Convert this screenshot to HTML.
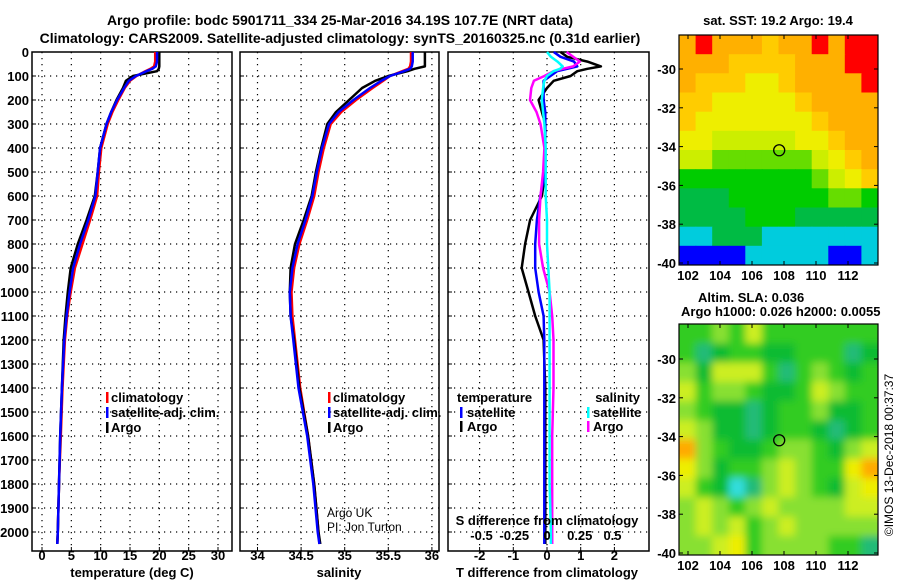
<!DOCTYPE html>
<html><head><meta charset="utf-8"><style>
html,body{margin:0;padding:0;background:#fff;}
svg{display:block;font-family:"Liberation Sans",Arial,sans-serif;}
.b{font-weight:bold;font-size:13px;}
.n{font-size:12px;}
</style></head><body>
<svg id="chart" width="900" height="580" viewBox="0 0 900 580">
<rect width="900" height="580" fill="#fff"/>
<text class="b" x="340" y="25" text-anchor="middle" style="font-size:14px">Argo profile: bodc 5901711_334 25-Mar-2016 34.19S 107.7E (NRT data)</text>
<text class="b" x="340" y="43" text-anchor="middle" style="font-size:14px">Climatology: CARS2009. Satellite-adjusted climatology: synTS_20160325.nc (0.31d earlier)</text>
<g id="plots"></g>
<g id="maps"></g>
<text class="n" x="327" y="517">Argo UK</text>
<text class="n" x="327" y="531">PI: Jon Turton</text>
<text class="n" transform="translate(893,455) rotate(-90)" text-anchor="middle">©IMOS 13-Dec-2018 00:37:37</text>
</svg>
<script>
const depths=[0,20,40,60,70,80,100,120,150,200,250,300,400,500,600,700,800,900,1000,1100,1200,1400,1600,1800,2000,2050];
const tempSat=[19.6,19.6,19.6,19.4,18.8,17.8,16.0,14.8,14.0,12.8,11.8,11.0,9.9,9.5,9.1,7.9,6.5,5.3,4.7,4.2,3.8,3.4,3.1,2.9,2.7,2.6];
const tempClim=[19.3,19.3,19.3,19.1,18.5,17.6,16.1,15.0,14.1,13.0,12.0,11.2,10.1,9.7,9.4,8.2,6.9,5.6,4.9,4.3,3.9,3.5,3.2,2.9,2.7,2.6];
const tempArgo=[20.0,20.0,20.0,20.0,19.9,19.6,15.5,14.3,13.8,12.7,11.8,11.0,9.9,9.5,9.0,7.6,6.1,4.9,4.4,4.0,3.7,3.4,3.1,2.9,2.7,2.6];
const salSat=[35.78,35.78,35.78,35.77,35.75,35.68,35.52,35.42,35.29,35.10,34.93,34.82,34.74,34.68,34.63,34.55,34.46,34.40,34.37,34.38,34.41,34.47,34.57,34.64,34.69,34.71];
const salClim=[35.76,35.76,35.76,35.75,35.73,35.66,35.52,35.44,35.32,35.13,34.96,34.84,34.76,34.70,34.65,34.57,34.48,34.42,34.39,34.40,34.43,34.49,34.58,34.65,34.70,34.71];
const salArgo=[35.92,35.92,35.92,35.92,35.80,35.72,35.50,35.35,35.20,35.05,34.90,34.80,34.73,34.67,34.62,34.53,34.43,34.38,34.37,34.38,34.42,34.48,34.58,34.65,34.70,34.72];
const dTArgo=[0.4,0.6,1.2,1.6,1.2,0.9,0.7,0.2,0.0,-0.25,-0.15,-0.05,-0.05,-0.05,-0.15,-0.5,-0.65,-0.75,-0.55,-0.35,-0.1,-0.05,-0.05,-0.05,-0.05,-0.05];
const dTSat=[0.2,0.4,0.8,0.9,0.6,0.3,0.1,-0.1,-0.1,-0.1,-0.05,-0.05,-0.05,-0.05,-0.2,-0.3,-0.35,-0.35,-0.25,-0.1,-0.08,-0.08,-0.08,-0.08,-0.08,-0.08];
const dSArgo=[0.15,0.2,0.25,0.2,0.12,0.05,-0.02,-0.1,-0.12,-0.13,-0.08,-0.05,-0.02,-0.03,-0.05,-0.06,-0.06,-0.03,0.02,0.04,0.05,0.05,0.04,0.04,0.04,0.04];
const dSSat=[0.0,0.03,0.08,0.12,0.1,0.05,0.0,-0.02,-0.03,-0.04,-0.03,-0.02,-0.01,-0.01,-0.01,0.0,0.0,0.01,0.02,0.02,0.02,0.02,0.02,0.02,0.03,0.03];
const depthTicks=[0,100,200,300,400,500,600,700,800,900,1000,1100,1200,1300,1400,1500,1600,1700,1800,1900,2000];
const tempTicks=[0,5,10,15,20,25,30];
const salTicks=[34,34.5,35,35.5,36];
const salTickLabels=["34","34.5","35","35.5","36"];
const dTTicks=[-2,-1,0,1,2];
const dSTicks=[-0.5,-0.25,0,0.25,0.5];
const dSTickLabels=["-0.5","-0.25","0","0.25","0.5"];
const sstCodes=[
[8,9,8,8,8,7,8,8,9,8,9,9],[8,8,8,7,7,7,7,8,8,8,9,9],[8,7,7,7,6,6,7,8,8,8,8,9],[7,7,6,6,6,6,6,7,8,8,8,8],
[7,6,6,6,6,6,6,6,7,8,8,8],[6,6,5,5,5,5,5,6,6,7,8,8],[5,5,4,4,4,4,4,4,5,6,7,8],[3,3,3,3,3,3,3,3,4,5,6,7],
[2,2,2,3,3,3,3,3,3,4,4,3],[2,2,2,2,3,3,3,2,2,2,2,2],[1,1,2,2,2,1,1,1,1,1,1,1],[0,0,0,0,1,1,1,1,1,0,0,1]];
const slaCodes=[
[3,3,4,3,5,3,3,3,3,3,3,3],[3,1,2,3,3,2,2,3,3,3,1,2],[4,2,5,5,5,3,1,3,4,3,2,3],[5,3,4,4,3,2,2,3,5,4,3,3],
[4,3,2,2,1,2,3,3,4,2,2,3],[5,4,2,2,1,2,3,3,2,1,2,3],[7,4,3,2,2,3,4,4,3,2,4,5],[6,4,2,3,3,4,5,4,3,3,6,7],
[5,3,2,0,1,4,5,4,3,2,5,6],[4,5,4,3,4,5,4,4,4,4,5,5],[4,5,4,5,3,4,5,4,4,4,4,4],[4,4,5,6,3,4,4,4,4,3,3,1]];
const latTicks=[-30,-32,-34,-36,-38,-40];
const lonTicks=[102,104,106,108,110,112];
const argoLon=107.7, argoLat=-34.19;

const NS="http://www.w3.org/2000/svg";
function mk(tag,attrs,parent){const e=document.createElementNS(NS,tag);for(const k in attrs)e.setAttribute(k,attrs[k]);parent.appendChild(e);return e;}
const plots=document.getElementById('plots');
const yD=d=>52+d*0.24;
const TOP=52,BOT=551;
const xT=v=>42+v*5.867;
const xS=v=>257.5+(v-34)*87.2;
const xDT=v=>547+v*33.7;
const xDS=v=>547+v*131;

function frame(x0,x1,name,vgrid){
  const g=mk('g',{},plots);
  
  
  depthTicks.forEach(d=>{if(d>0){const l=mk('line',{x1:x0,x2:x1,y1:yD(d),y2:yD(d),stroke:'#000','stroke-width':1.2,'stroke-dasharray':'1.2,4.8'},g);
    }
    mk('line',{x1:x0,x2:x0+4,y1:yD(d),y2:yD(d),stroke:'#000'},g);});
  vgrid.forEach(x=>{const l=mk('line',{x1:x,x2:x,y1:TOP,y2:BOT,stroke:'#000','stroke-width':1.2,'stroke-dasharray':'1.2,4.8'},g);
    
    mk('line',{x1:x,x2:x,y1:BOT,y2:BOT-4,stroke:'#000'},g);});
  const r=mk('rect',{x:x0,y:TOP,width:x1-x0,height:BOT-TOP,fill:'none',stroke:'#000','stroke-width':1.5},g);
  
  return g;
}
function line(g,xs,xf,color,name,w){
  const pts=xs.map((v,i)=>xf(v).toFixed(1)+','+yD(depths[i]).toFixed(1)).join(' ');
  const p=mk('polyline',{points:pts,fill:'none',stroke:color,'stroke-width':w||2.5,'stroke-linejoin':'round'},g);
  
}
function txt(parent,x,y,s,cls,anchor,name,color){
  const t=mk('text',{x:x,y:y,class:cls,'text-anchor':anchor||'start',fill:color||'#000'},parent);t.textContent=s;
  return t;
}
function legBar(parent,x,y,color){
  const r=mk('rect',{x:x,y:y-10,width:2.5,height:11,fill:color},parent);
  
}
depthTicks.forEach(d=>txt(plots,29,yD(d)+5,String(d),'b','end','depth-tick-label'));

const g1=frame(32,232,'temperature-panel',tempTicks.map(xT));
line(g1,tempClim,xT,'#f00','temp-climatology-line');
line(g1,tempArgo,xT,'#000','temp-argo-line');
line(g1,tempSat,xT,'#00f','temp-satellite-line');
tempTicks.forEach(v=>txt(plots,xT(v),560,String(v),'b','middle','temp-tick-label'));
txt(plots,132,577,'temperature (deg C)','b','middle','temp-axis-title');
[['climatology','#f00'],['satellite-adj. clim.','#00f'],['Argo','#000']].forEach((e,i)=>{
  legBar(plots,106,402+i*15,e[1]);txt(plots,111,402+i*15,e[0],'b','start','temp-legend-entry');});

const g2=frame(240,439,'salinity-panel',salTicks.map(xS));
line(g2,salClim,xS,'#f00','sal-climatology-line');
line(g2,salArgo,xS,'#000','sal-argo-line');
line(g2,salSat,xS,'#00f','sal-satellite-line');
salTicks.forEach((v,i)=>txt(plots,xS(v),560,salTickLabels[i],'b','middle','sal-tick-label'));
txt(plots,339,577,'salinity','b','middle','sal-axis-title');
[['climatology','#f00'],['satellite-adj. clim.','#00f'],['Argo','#000']].forEach((e,i)=>{
  legBar(plots,328,402+i*15,e[1]);txt(plots,333,402+i*15,e[0],'b','start','sal-legend-entry');});

const g3=frame(448,649,'difference-panel',dTTicks.map(xDT));
line(g3,dTArgo,xDT,'#000','dT-argo-line');
line(g3,dTSat,xDT,'#00f','dT-satellite-line');
line(g3,dSArgo,xDS,'#f0f','dS-argo-line');
line(g3,dSSat,xDS,'#0ff','dS-satellite-line');
dTTicks.forEach(v=>txt(plots,xDT(v),560,String(v),'b','middle','dT-tick-label'));
txt(plots,547,577,'T difference from climatology','b','middle','dT-axis-title');
txt(plots,547,525,'S difference from climatology','b','middle','dS-axis-title');
dSTicks.forEach((v,i)=>txt(plots,xDS(v),540,dSTickLabels[i],'b','middle','dS-tick-label'));
txt(plots,457,402,'temperature','b','start','diff-legend-temperature');
legBar(plots,460,417,'#00f');txt(plots,467,417,'satellite','b','start','diff-legend-t-satellite');
legBar(plots,460,431,'#000');txt(plots,467,431,'Argo','b','start','diff-legend-t-argo');
txt(plots,640,402,'salinity','b','end','diff-legend-salinity');
legBar(plots,587,417,'#0ff');txt(plots,593,417,'satellite','b','start','diff-legend-s-satellite');
legBar(plots,587,431,'#f0f');txt(plots,593,431,'Argo','b','start','diff-legend-s-argo');

const maps=document.getElementById('maps');
const sstColors=['#0000ff','#00ccdd','#00bb44','#00cc00','#66dd00','#ccee00','#eeee00','#ffcc00','#ffb000','#ff0000'];
const slaColors=['#33dddd','#22bb77','#11bb33','#33cc22','#88e030','#ccee22','#eeee00','#ffaa00'];
const defs=mk('defs',{},maps);
const cp1=mk('clipPath',{id:'c1'},defs);mk('rect',{x:679,y:35,width:199,height:230},cp1);
const cp2=mk('clipPath',{id:'c2'},defs);mk('rect',{x:679,y:324,width:199,height:231},cp2);
const f=mk('filter',{id:'blur',x:'-10%',y:'-10%',width:'120%',height:'120%'},defs);mk('feGaussianBlur',{stdDeviation:4},f);

function drawMap(x0,y0,lat30y,codes,colors,name,blur){
  const xLon=lon=>688+(lon-102)*16;
  const yLat=lat=>lat30y+(-30-lat)*19.4;
  const W=199,H=(yLat(-40)+2)-y0;
  const gm=mk('g',{'clip-path':'url(#'+(blur?'c2':'c1')+')'},maps);
  
  const gi=mk('g',blur?{filter:'url(#blur)'}:{},gm);
  const rows=codes.length,cols=codes[0].length;
  const cw=W/cols,ch=H/rows;
  if(blur) mk('rect',{x:x0-10,y:y0-10,width:W+20,height:H+20,fill:colors[3]},gi);
  codes.forEach((row,r)=>row.forEach((c,k)=>{
    const cell=mk('rect',{x:(x0+k*cw-(blur&&k==0?12:0)).toFixed(1),y:(y0+r*ch-(blur&&r==0?12:0)).toFixed(1),width:(cw+0.6+(blur&&(k==0||k==cols-1)?12:0)).toFixed(1),height:(ch+0.6+(blur&&(r==0||r==rows-1)?12:0)).toFixed(1),fill:colors[c]},gi);
    
    
  }));
  const fr=mk('rect',{x:x0,y:y0,width:W,height:H,fill:'none',stroke:'#000','stroke-width':1.2},maps);
  
  latTicks.forEach(l=>{const y=yLat(l);mk('line',{x1:x0,x2:x0+4,y1:y,y2:y,stroke:'#000'},maps);mk('line',{x1:x0+W,x2:x0+W-4,y1:y,y2:y,stroke:'#000'},maps);
    txt(maps,676,y+5,String(l),'b','end','lat-tick-label');});
  lonTicks.forEach(l=>{const x=xLon(l);mk('line',{x1:x,x2:x,y1:y0+H,y2:y0+H-4,stroke:'#000'},maps);mk('line',{x1:x,x2:x,y1:y0,y2:y0+4,stroke:'#000'},maps);
    txt(maps,x,y0+H+15,String(l),'b','middle','lon-tick-label');});
  const c=mk('circle',{cx:xLon(argoLon),cy:yLat(argoLat),r:5.5,fill:'none',stroke:'#000','stroke-width':1.3},maps);
  
}
drawMap(679,35,69,sstCodes,sstColors,'sst-map',false);
drawMap(679,324,359,slaCodes,slaColors,'sla-map',true);
txt(maps,778,25,'sat. SST: 19.2 Argo: 19.4','b','middle','sst-map-title');
txt(maps,698,302,'Altim. SLA: 0.036','b','start','sla-map-title');
txt(maps,681,316,'Argo h1000: 0.026 h2000: 0.0055','b','start','sla-map-subtitle');
</script>
</body></html>
